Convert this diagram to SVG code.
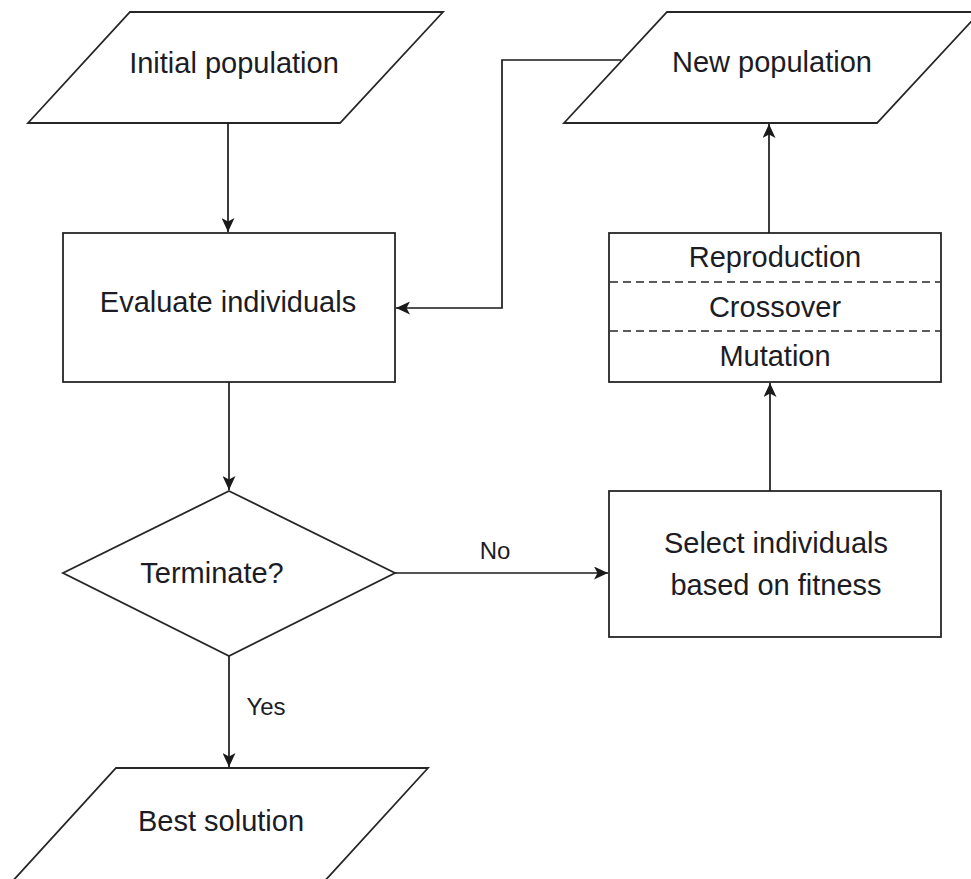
<svg xmlns="http://www.w3.org/2000/svg" width="971" height="879" viewBox="0 0 971 879">
  <style>
    .shape { fill: #ffffff; stroke: #262626; stroke-width: 1.8; }
    .dash { fill: none; stroke: #262626; stroke-width: 1.5; stroke-dasharray: 8 5; }
    .edge { fill: none; stroke: #1a1a1a; stroke-width: 1.7; }
    .lbl { font-family: "Liberation Sans", Arial, sans-serif; font-size: 29px; fill: #1c1c24; text-anchor: middle; }
    .small { font-size: 24px; }
  </style>
  <defs>
    <marker id="arrow" markerUnits="userSpaceOnUse" markerWidth="15" markerHeight="13" refX="14" refY="6.5" orient="auto">
      <path d="M0,0 L14,6.5 L0,13 L3.5,6.5 z" fill="#1a1a1a"/>
    </marker>
  </defs>

  <rect width="971" height="879" fill="#ffffff"/>

  <g id="initial-population">
    <polygon class="shape" points="130,12 443,12 340,123 28,123"/>
    <text class="lbl" x="234" y="73">Initial population</text>
  </g>

  <g id="evaluate-individuals">
    <rect class="shape" x="63" y="233" width="332" height="149"/>
    <text class="lbl" x="228" y="312">Evaluate individuals</text>
  </g>

  <g id="terminate">
    <polygon class="shape" points="229,491 395,573 229,656 63,573"/>
    <text class="lbl" x="212" y="583">Terminate?</text>
  </g>

  <g id="best-solution">
    <polygon class="shape" points="116,768 428,768 322,884 10,884"/>
    <text class="lbl" x="221" y="831">Best solution</text>
  </g>

  <g id="select-individuals">
    <rect class="shape" x="609" y="491" width="332" height="146"/>
    <text class="lbl" x="776" y="553">Select individuals</text>
    <text class="lbl" x="776" y="595">based on fitness</text>
  </g>

  <g id="genetic-operators">
    <rect class="shape" x="609" y="233" width="332" height="149"/>
    <line class="dash" x1="610" y1="282" x2="940" y2="282"/>
    <line class="dash" x1="610" y1="331" x2="940" y2="331"/>
    <text class="lbl" x="775" y="267">Reproduction</text>
    <text class="lbl" x="775" y="317">Crossover</text>
    <text class="lbl" x="775" y="366">Mutation</text>
  </g>

  <g id="new-population">
    <polygon class="shape" points="667,12 980,12 877,123 564,123"/>
    <text class="lbl" x="772" y="72">New population</text>
  </g>

  <g id="connectors">
    <line class="edge" x1="228" y1="123" x2="228" y2="232" marker-end="url(#arrow)"/>
    <line class="edge" x1="229" y1="382" x2="229" y2="490" marker-end="url(#arrow)"/>
    <line class="edge" x1="229" y1="656" x2="229" y2="767" marker-end="url(#arrow)"/>
    <line class="edge" x1="395" y1="573" x2="608" y2="573" marker-end="url(#arrow)"/>
    <line class="edge" x1="770" y1="491" x2="770" y2="383" marker-end="url(#arrow)"/>
    <line class="edge" x1="769" y1="233" x2="769" y2="124" marker-end="url(#arrow)"/>
    <polyline class="edge" points="621,60 502,60 502,308 396,308" marker-end="url(#arrow)"/>
    <text class="lbl small" x="495" y="559">No</text>
    <text class="lbl small" x="266" y="715">Yes</text>
  </g>
</svg>
